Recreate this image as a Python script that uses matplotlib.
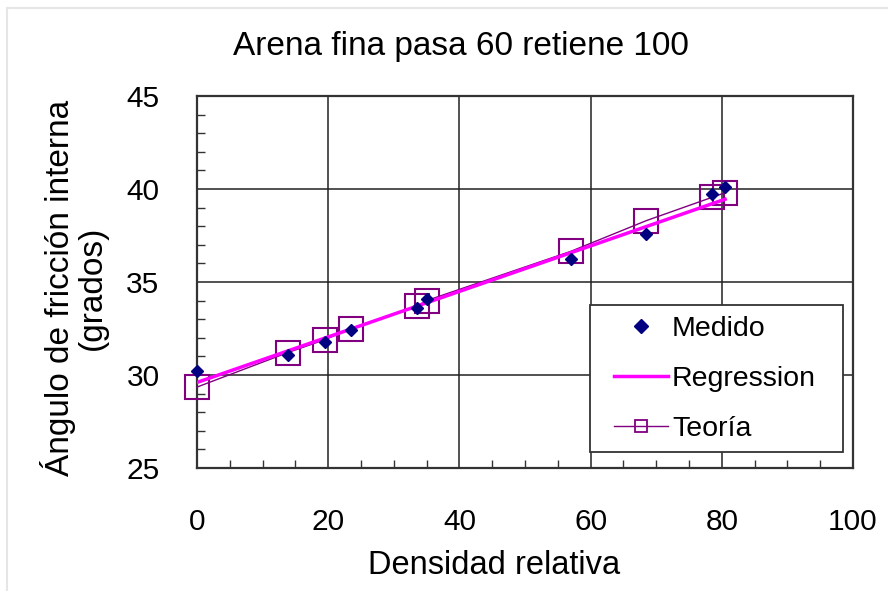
import matplotlib
matplotlib.use("Agg")
import matplotlib.pyplot as plt
from matplotlib.lines import Line2D
from matplotlib.patches import Rectangle
from matplotlib.ticker import MultipleLocator

plt.rcParams['font.family'] = ['Liberation Sans', 'DejaVu Sans']

# Data
medido_x = [0, 13.8, 19.5, 23.5, 33.5, 35.0, 57.0, 68.5, 78.5, 80.5]
medido_y = [30.2, 31.05, 31.8, 32.4, 33.6, 34.1, 36.25, 37.6, 39.75, 40.1]
teoria_x = [0, 13.8, 19.5, 23.5, 33.5, 35.0, 57.0, 68.5, 78.5, 80.5]
teoria_y = [29.35, 31.2, 31.9, 32.5, 33.7, 34.0, 36.65, 38.3, 39.55, 39.8]
regression_x = [0, 80.5]
regression_y = [29.6, 39.45]

title = "Arena fina pasa 60 retiene 100"
xlabel = "Densidad relativa"
ylabel = "Ángulo de fricción interna\n(grados)"
xticks = [0, 20, 40, 60, 80, 100]
yticks = [25, 30, 35, 40, 45]

W, H = 888, 591
fig = plt.figure(figsize=(W/100, H/100), dpi=100)
ax = fig.add_axes([197/W, 1-468/H, 656/W, 372/H])

navy = '#000080'
magenta = '#FF00FF'
purple = '#800080'

ax.plot(teoria_x, teoria_y, color=purple, lw=1.0, marker='s', markersize=17,
        markerfacecolor='none', markeredgecolor=purple, markeredgewidth=1.5,
        zorder=3, clip_on=False)
ax.plot(regression_x, regression_y, color=magenta, lw=2.5, zorder=4)
ax.plot(medido_x, medido_y, linestyle='none', marker='D', markersize=6.5,
        color=navy, zorder=5, clip_on=False)

ax.set_xlim(0, 100)
ax.set_ylim(25, 45)
ax.set_xticks(xticks)
ax.set_yticks(yticks)
ax.xaxis.set_minor_locator(MultipleLocator(5))
ax.yaxis.set_minor_locator(MultipleLocator(1))
ax.grid(True, which='major', color='#222222', lw=1.1)
ax.set_axisbelow(True)
ax.tick_params(which='both', direction='in', colors='#333333', labelcolor='black')
ax.tick_params(which='major', length=0)
ax.tick_params(which='minor', length=6, width=1)
ax.tick_params(axis='x', which='major', labelsize=21.5, pad=29)
ax.tick_params(axis='y', which='major', labelsize=21.5, pad=27)
for s in ax.spines.values():
    s.set_color('#333333')
    s.set_linewidth(1.6)

fig.text(461/W, 1-47/H, title, fontsize=24, ha='center', va='center')
fig.text(494/W, 1-566/H, xlabel, fontsize=23.5, ha='center', va='center')
fig.text(74/W, 1-288/H, ylabel, fontsize=24, ha='center', va='center',
         rotation=90, linespacing=1.0, multialignment='center')

# legend frame
frame = Rectangle(((590-197)/656, (468-452)/372), 253/656, 147/372,
                  transform=ax.transAxes, facecolor='white', edgecolor='#333333',
                  lw=1.3, zorder=9, clip_on=False)
ax.add_patch(frame)

handles = [
    Line2D([], [], linestyle='none', marker='D', markersize=7, color=navy),
    Line2D([], [], color=magenta, lw=2.5),
    Line2D([], [], color=purple, lw=1.0, marker='s', markersize=9,
           markerfacecolor='none', markeredgecolor=purple, markeredgewidth=1.3),
]
leg = ax.legend(handles, ['Medido', 'Regression', 'Teoría'],
                loc='upper left', bbox_to_anchor=(614/W, 1-316/H),
                bbox_transform=fig.transFigure,
                fontsize=20.5, frameon=False, borderpad=0,
                labelspacing=0.84, handlelength=1.9, handletextpad=0.14,
                borderaxespad=0)
leg.set_zorder(10)

# light frame around the figure
fig.add_artist(Line2D([7/W, 1], [1-8/H, 1-8/H], color='#e6e6e6', lw=1.5))
fig.add_artist(Line2D([7/W, 7/W], [0, 1-8/H], color='#e6e6e6', lw=1.5))

fig.savefig('out.png', dpi=100)
